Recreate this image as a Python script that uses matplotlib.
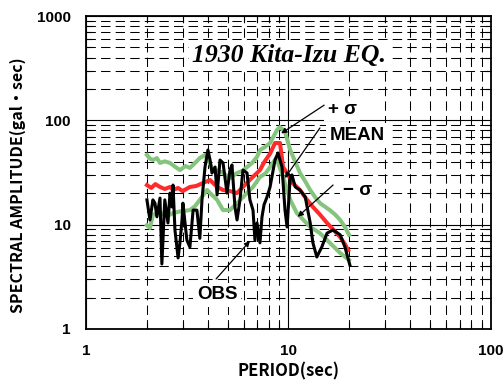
import matplotlib
matplotlib.use("Agg")
import matplotlib.pyplot as plt
from matplotlib.ticker import LogLocator, NullFormatter, FixedLocator

# values (period in sec, amplitude in gal*sec)
upper_period = [2.00, 2.07, 2.14, 2.24, 2.32, 2.45, 2.60, 2.75, 2.91, 3.10, 3.26, 3.45, 3.65, 3.87,
                4.05, 4.24, 4.50, 4.75, 5.14, 5.57, 5.96, 6.24, 6.60, 6.99, 7.23, 7.60, 8.11,
                8.50, 8.77, 9.08, 9.61, 10.2, 10.8, 11.4, 12.1, 12.8, 13.5, 14.3, 15.2, 16.0,
                17.0, 18.0, 19.0, 19.9]
upper_amp = [46.6, 43.0, 41.7, 43.5, 39.1, 40.5, 39.1, 36.0, 33.4, 36.5, 35.0, 39.0, 43.6, 46.6,
             40.0, 33.4, 33.0, 31.3, 28.0, 31.3, 33.0, 35.7, 39.0, 44.6, 52.0, 55.0, 60.7,
             72.0, 80.9, 86.4, 77.4, 52.0, 40.0, 31.3, 26.0, 21.5, 18.5, 16.1, 14.8, 13.8,
             12.5, 11.1, 9.5, 8.0]

mean_period = [2.00, 2.10, 2.20, 2.32, 2.45, 2.60, 2.69, 2.85, 3.00, 3.26, 3.50, 3.78, 4.10,
               4.44, 4.75, 5.14, 5.57, 5.96, 6.45, 6.99, 7.23, 7.60, 8.11, 8.58, 9.08, 9.40,
               9.84, 10.5, 11.4, 12.3, 13.2, 14.3, 15.5, 16.6, 18.0, 19.0, 19.7]
mean_amp = [24.0, 22.5, 24.5, 23.0, 22.0, 23.0, 21.5, 22.5, 21.0, 23.0, 23.5, 25.1, 26.8,
            23.0, 21.5, 21.0, 20.1, 23.0, 27.0, 31.3, 33.4, 40.0, 48.0, 60.7, 60.7, 35.7,
            31.3, 25.0, 21.5, 17.5, 14.8, 12.5, 10.4, 9.0, 7.6, 6.5, 5.7]

lower_period = [2.00, 2.07, 2.14, 2.32, 2.50, 2.69, 2.95, 3.26, 3.45, 3.65, 3.96, 4.10, 4.44,
                4.75, 5.14, 5.57, 5.96, 6.68, 7.23, 7.70, 8.11, 8.70, 9.40, 10.2, 11.0, 12.8,
                14.3, 16.0, 18.0, 19.9]
lower_amp = [9.9, 9.3, 12.4, 13.2, 12.0, 12.9, 13.5, 13.8, 15.0, 17.3, 21.5, 20.1, 17.3,
             13.8, 13.8, 16.1, 18.4, 23.0, 28.7, 31.0, 35.7, 43.6, 28.7, 17.3, 12.9, 9.5,
             8.3, 6.7, 5.35, 4.6]

obs_period = [2.00, 2.07, 2.14, 2.19, 2.24, 2.32, 2.37, 2.45, 2.54, 2.60, 2.66, 2.69, 2.75,
              2.85, 2.91, 2.98, 3.01, 3.15, 3.26, 3.38, 3.53, 3.65, 3.74, 3.87, 4.00, 4.10,
              4.19, 4.34, 4.44, 4.59, 4.75, 4.97, 5.14, 5.26, 5.44, 5.57, 5.76, 5.96, 6.24,
              6.45, 6.68, 6.83, 6.99, 7.23, 7.40, 7.57, 7.83, 8.11, 8.58, 8.87, 9.29, 9.61,
              9.84, 10.2, 10.4, 10.8, 11.4, 12.1, 12.8, 13.2, 13.8, 14.6, 15.5, 16.6, 18.0,
              19.0, 20.1]
obs_amp = [17.3, 11.1, 17.3, 16.1, 11.9, 18.0, 4.2, 17.3, 10.4, 20.1, 14.8, 24.0, 8.9,
           4.8, 6.7, 11.1, 16.1, 7.1, 6.1, 13.8, 13.8, 7.4, 17.3, 35.7, 52.0, 41.7,
           31.3, 35.7, 19.3, 41.7, 39.1, 20.1, 33.4, 37.4, 14.8, 11.1, 17.3, 33.4, 31.3,
           17.3, 13.8, 7.1, 10.4, 6.7, 11.9, 15.5, 18.4, 23.0, 41.7, 48.7, 35.7, 13.8,
           9.5, 28.7, 30.0, 23.0, 21.5, 18.4, 10.4, 6.7, 4.9, 6.1, 8.3, 8.9, 8.0,
           6.1, 4.1]

GREEN = "#84c47c"
RED = "#ff2b2b"
CJK = ["Noto Sans CJK JP", "DejaVu Sans"]

plt.rcParams["font.family"] = ["Liberation Sans", "DejaVu Sans"]

fig = plt.figure(figsize=(5.04, 3.83), dpi=100)
ax = fig.add_axes([0.1706, 0.141, 0.8036, 0.817])
ax.set_xscale("log")
ax.set_yscale("log")
ax.set_xlim(1, 100)
ax.set_ylim(1, 1000)

# grid: solid at decades, dashed at the minor ticks
ax.xaxis.set_major_locator(FixedLocator([1, 10, 100]))
ax.yaxis.set_major_locator(FixedLocator([1, 10, 100, 1000]))
ax.xaxis.set_minor_locator(LogLocator(base=10, subs=range(2, 10)))
ax.yaxis.set_minor_locator(LogLocator(base=10, subs=range(2, 10)))
ax.xaxis.set_minor_formatter(NullFormatter())
ax.yaxis.set_minor_formatter(NullFormatter())
ax.grid(which="major", color="black", lw=0.8, ls="-")
ax.grid(which="minor", color="black", lw=0.75, ls=(0, (9, 5)))
ax.set_axisbelow(True)

ax.tick_params(which="major", length=0, labelsize=11, pad=11)
ax.tick_params(which="minor", direction="in", length=4, width=0.8,
               top=True, right=True)
ax.set_xticklabels(["1", "10", "100"], fontweight="bold")
ax.set_yticklabels(["1", "10", "100", "1000"], fontweight="bold")
for side in ax.spines.values():
    side.set_linewidth(1.3)

ax.plot(upper_period, upper_amp, color=GREEN, lw=2.9, zorder=3)
ax.plot(lower_period, lower_amp, color=GREEN, lw=2.9, zorder=3)
ax.plot(mean_period, mean_amp, color=RED, lw=2.9, zorder=4)
ax.plot(obs_period, obs_amp, color="black", lw=2.2, zorder=5)

white = dict(facecolor="white", edgecolor="none", pad=2.5)
ax.text(10.1, 420, "1930 Kita-Izu EQ.", family="Liberation Serif", style="italic",
        weight="bold", fontsize=18.5, ha="center", va="center", bbox=white, zorder=6)

label_font = dict(fontsize=13.5, weight="bold", ha="center", va="center", zorder=7)
ax.text(18.4, 128, "+ σ", bbox=white, **label_font)
ax.text(21.8, 71.7, "MEAN", bbox=white, **label_font)
ax.text(22.0, 21.5, "− σ", bbox=white, **label_font)
ax.text(4.44, 2.12, "OBS", bbox=white, **label_font)

arrow = dict(arrowstyle="-|>", color="black", lw=0.9, mutation_scale=8,
             shrinkA=0, shrinkB=0)
ax.annotate("", xy=(9.2, 75), xytext=(15.0, 140), arrowprops=arrow, zorder=8)
ax.annotate("", xy=(9.6, 28.0), xytext=(14.3, 84.6), arrowprops=arrow, zorder=8)
ax.annotate("", xy=(11.1, 11.9), xytext=(16.6, 24.0), arrowprops=arrow, zorder=8)
ax.annotate("", xy=(6.45, 6.98), xytext=(4.39, 3.02), arrowprops=arrow, zorder=8)

fig.text(0.573, 0.029, "PERIOD(sec)", family=CJK, weight="bold", fontsize=12,
         ha="center", va="center")
fig.text(0.036, 0.517, "SPECTRAL AMPLITUDE(gal・sec)", family=CJK, weight="bold",
         fontsize=11.5, rotation=90, ha="center", va="center")

fig.savefig("out.png", dpi=100)
